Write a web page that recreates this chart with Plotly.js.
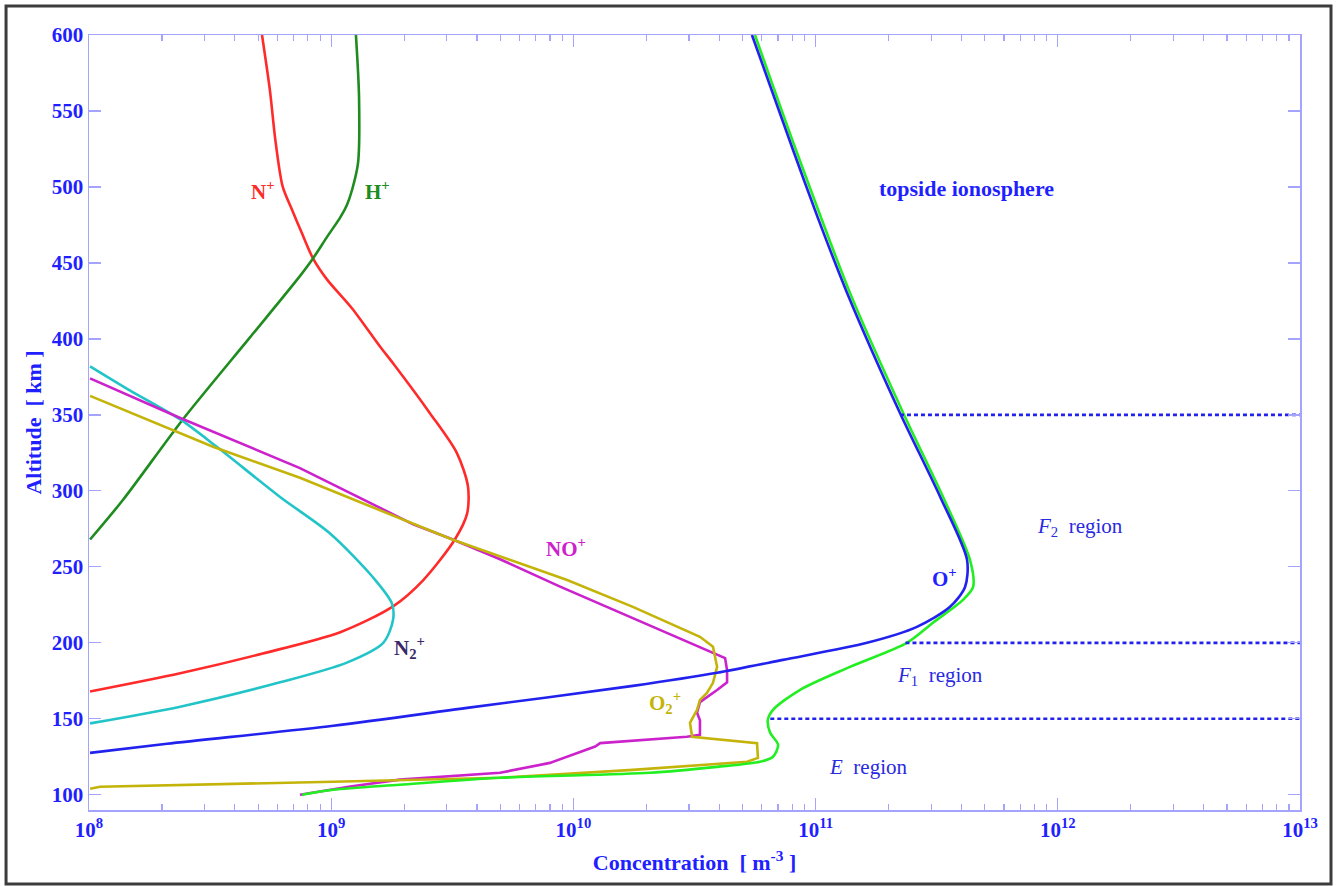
<!DOCTYPE html>
<html>
<head>
<meta charset="utf-8">
<script src="https://cdn.plot.ly/plotly-3.0.1.min.js"></script>
<style>
html,body{margin:0;padding:0;background:#fff;}
#chart{width:1339px;height:886px;}
</style>
</head>
<body>
<div id="chart"></div>
<script>
// ---- data (altitude in km, concentration in m^-3) ----
const nPlusAlt  = [600, 564, 530, 500, 485, 470, 453, 439, 420, 395, 384, 351, 325, 303, 285, 268, 241, 224, 207, 193, 180, 168];
const nPlusConc = [5.18e8, 5.58e8, 5.89e8, 6.31e8, 6.89e8, 7.55e8, 8.41e8, 9.62e8, 1.22e9, 1.59e9, 1.80e9, 2.56e9, 3.30e9, 3.67e9, 3.64e9, 3.24e9, 2.39e9, 1.80e9, 1.09e9, 5.22e8, 2.38e8, 1.01e8];

const hPlusAlt  = [600, 559, 516, 498, 488, 480, 467, 453, 439, 401, 347, 294, 268];
const hPlusConc = [1.265e9, 1.303e9, 1.291e9, 1.219e9, 1.16e9, 1.09e9, 9.6e8, 8.41e8, 7.23e8, 4.62e8, 2.44e8, 1.38e8, 1.01e8];

const n2PlusAlt  = [382, 366, 347, 329, 296, 272, 243, 226, 215, 200, 187, 174, 158, 147];
const n2PlusConc = [1.01e8, 1.48e8, 2.38e8, 3.37e8, 6.15e8, 9.89e8, 1.49e9, 1.78e9, 1.80e9, 1.64e9, 1.16e9, 6.15e8, 2.38e8, 1.01e8];

const noPlusAlt  = [374, 348, 315, 278, 268, 255, 237, 220, 193.4, 190, 182, 174, 169, 161, 154, 149, 139.5, 138.2, 134, 131.8, 121, 114.5, 110, 105.5, 100];
const noPlusConc = [1.01e8, 2.38e8, 7.43e8, 2.18e9, 3.18e9, 4.98e9, 8.81e9, 1.556e10, 3.77e10, 4.23e10, 4.31e10, 4.31e10, 3.92e10, 3.33e10, 3.24e10, 3.33e10, 3.33e10, 2.94e10, 1.29e10, 1.23e10, 8.0e9, 4.98e9, 1.92e9, 1.20e9, 7.43e8];

const o2PlusAlt  = [362.5, 329, 308.6, 287.5, 267.8, 241.4, 223.7, 204, 197.4, 184.2, 173.7, 167, 162.5, 155.9, 147.4, 138.2, 134, 124.3, 121.7, 116.4, 111.2, 108.6, 105.3, 104];
const o2PlusConc = [1.01e8, 3.25e8, 7.43e8, 1.59e9, 3.18e9, 9.42e9, 1.76e10, 3.33e10, 3.77e10, 3.92e10, 3.77e10, 3.56e10, 3.33e10, 3.24e10, 3.03e10, 3.09e10, 5.73e10, 5.78e10, 5.21e10, 1.76e10, 4.98e9, 1.02e9, 1.11e8, 1.01e8];

const oPlusAlt  = [600, 524.3, 480, 430.3, 351.3, 296, 254.6, 236.8, 223.7, 210.5, 200, 188.8, 180.3, 171.7, 157.2, 145.4, 133.6, 127.6];
const oPlusConc = [5.46e10, 8.07e10, 1.02e11, 1.349e11, 2.23e11, 3.27e11, 4.22e11, 4.14e11, 3.59e11, 2.62e11, 1.63e11, 7.33e10, 3.92e10, 1.76e10, 3.64e9, 1.02e9, 2.10e8, 1.01e8];

const neAlt  = [600, 524.3, 430.3, 351.3, 296, 254.6, 236.8, 228.3, 213.2, 200, 184.2, 169.1, 155.9, 149.3, 140.8, 132.9, 125, 121.7, 118.4, 114.5, 111.2, 106.6, 103.3, 100];
const neConc = [5.62e10, 8.30e10, 1.387e11, 2.30e11, 3.36e11, 4.34e11, 4.47e11, 4.06e11, 3.05e11, 2.38e11, 1.387e11, 8.63e10, 6.67e10, 6.35e10, 6.49e10, 7.0e10, 6.67e10, 5.89e10, 3.92e10, 2.07e10, 4.98e9, 1.92e9, 1.02e9, 7.57e8];

// region boundaries: altitude and the concentration where the dotted line starts
const boundaryAlt   = [350, 200, 150];
const boundaryStart = [2.23e11, 2.35e11, 6.5e10];
const boundaryEnd   = 1e13;

const xTickVals = [1e8, 1e9, 1e10, 1e11, 1e12, 1e13];
const xTickText = ['10<sup>8</sup>', '10<sup>9</sup>', '10<sup>10</sup>', '10<sup>11</sup>', '10<sup>12</sup>', '10<sup>13</sup>'];
const yTickVals = [100, 150, 200, 250, 300, 350, 400, 450, 500, 550, 600];

// labels
const labelText = ['N<sup>+</sup>', 'H<sup>+</sup>', 'topside ionosphere', 'NO<sup>+</sup>', 'N<sub>2</sub><sup>+</sup>', 'O<sub>2</sub><sup>+</sup>', 'O<sup>+</sup>',
                   '<i>F</i><sub>2</sub>  region', '<i>F</i><sub>1</sub>  region', '<i>E</i>  region'];
const labelConc = [5.25e8, 1.55e9, 4.2e11, 9.3e9, 2.1e9, 2.4e10, 3.4e11, 1.24e12, 3.25e11, 1.64e11];
const labelAlt  = [498, 498, 499, 263, 197, 161, 243, 276, 178, 118];

// ---- drawing ----
const FONT = '"Liberation Serif", "Times New Roman", serif';
const AXBLUE = '#1f1fff';

function curve(x, y, color, shape) {
  return {x: x, y: y, type: 'scatter', mode: 'lines', hoverinfo: 'skip',
          line: {color: color, width: 2.6, shape: shape || 'linear', smoothing: 0.8}};
}

const traces = [
  curve(nPlusConc, nPlusAlt, '#ff2a2a', 'spline'),
  curve(hPlusConc, hPlusAlt, '#1e8c1e', 'spline'),
  curve(n2PlusConc, n2PlusAlt, '#22c4c8', 'spline'),
  curve(noPlusConc, noPlusAlt, '#cc22cc'),
  curve(o2PlusConc, o2PlusAlt, '#c4b40a'),
  curve(neConc, neAlt, '#22ee22', 'spline'),
  curve(oPlusConc, oPlusAlt, '#2222ee', 'spline')
];

for (let i = 0; i < boundaryAlt.length; i++) {
  traces.push({x: [boundaryStart[i], boundaryEnd], y: [boundaryAlt[i], boundaryAlt[i]],
    type: 'scatter', mode: 'lines', hoverinfo: 'skip',
    line: {color: '#2222ee', width: 2.6, dash: '4px,3px'}});
}

const labelColor = ['#ff2a2a', '#1e8c1e', '#1f1fff', '#cc22cc', '#3a2a6a', '#c4b40a', '#1f1fff', '#2a2ae0', '#2a2ae0', '#2a2ae0'];
const labelBold  = [true, true, true, true, true, true, true, false, false, false];
const labelSize  = [21, 21, 22, 21, 21, 21, 21, 21, 21, 21];

const annotations = labelText.map((t, i) => ({
  x: Math.log10(labelConc[i]), y: labelAlt[i], xref: 'x', yref: 'y',
  text: t, showarrow: false, xanchor: 'center', yanchor: 'middle',
  font: {family: FONT, size: labelSize[i], color: labelColor[i], weight: labelBold[i] ? 'bold' : 'normal'}
}));

const layout = {
  width: 1339, height: 886,
  margin: {l: 89, r: 39, t: 35, b: 76},
  paper_bgcolor: '#ffffff', plot_bgcolor: '#ffffff',
  showlegend: false,
  font: {family: FONT, color: AXBLUE},
  xaxis: {
    type: 'log', range: [8, 13],
    tickvals: xTickVals, ticktext: xTickText,
    ticks: 'inside', ticklen: 12, tickwidth: 1.2, tickcolor: '#a4a4ff',
    showline: true, linecolor: '#a4a4ff', linewidth: 1.5, mirror: 'ticks',
    showgrid: false, zeroline: false,
    minor: {ticks: 'inside', ticklen: 6, tickcolor: '#a4a4ff', dtick: 'D1', showgrid: false},
    tickfont: {family: FONT, size: 21, color: AXBLUE, weight: 'bold'},
    title: {text: 'Concentration\u00a0\u00a0[ m<sup>-3</sup> ]', standoff: 14,
            font: {family: FONT, size: 22, color: AXBLUE, weight: 'bold'}}
  },
  yaxis: {
    range: [90, 600], tickvals: yTickVals,
    ticks: 'inside', ticklen: 12, tickwidth: 1.2, tickcolor: '#a4a4ff',
    showline: true, linecolor: '#a4a4ff', linewidth: 1.5, mirror: 'ticks',
    showgrid: false, zeroline: false,
    tickfont: {family: FONT, size: 21, color: AXBLUE, weight: 'bold'},
    title: {text: 'Altitude\u00a0\u00a0[ km ]', standoff: 4,
            font: {family: FONT, size: 22, color: AXBLUE, weight: 'bold'}}
  },
  annotations: annotations,
  shapes: [{type: 'rect', xref: 'paper', yref: 'paper',
            x0: -0.0685, x1: 1.0256, y0: -0.0955, y1: 1.0374,
            line: {color: '#3c3c3c', width: 3}, fillcolor: 'rgba(0,0,0,0)', layer: 'below'}]
};

Plotly.newPlot('chart', traces, layout, {staticPlot: true, displayModeBar: false});
</script>
</body>
</html>
